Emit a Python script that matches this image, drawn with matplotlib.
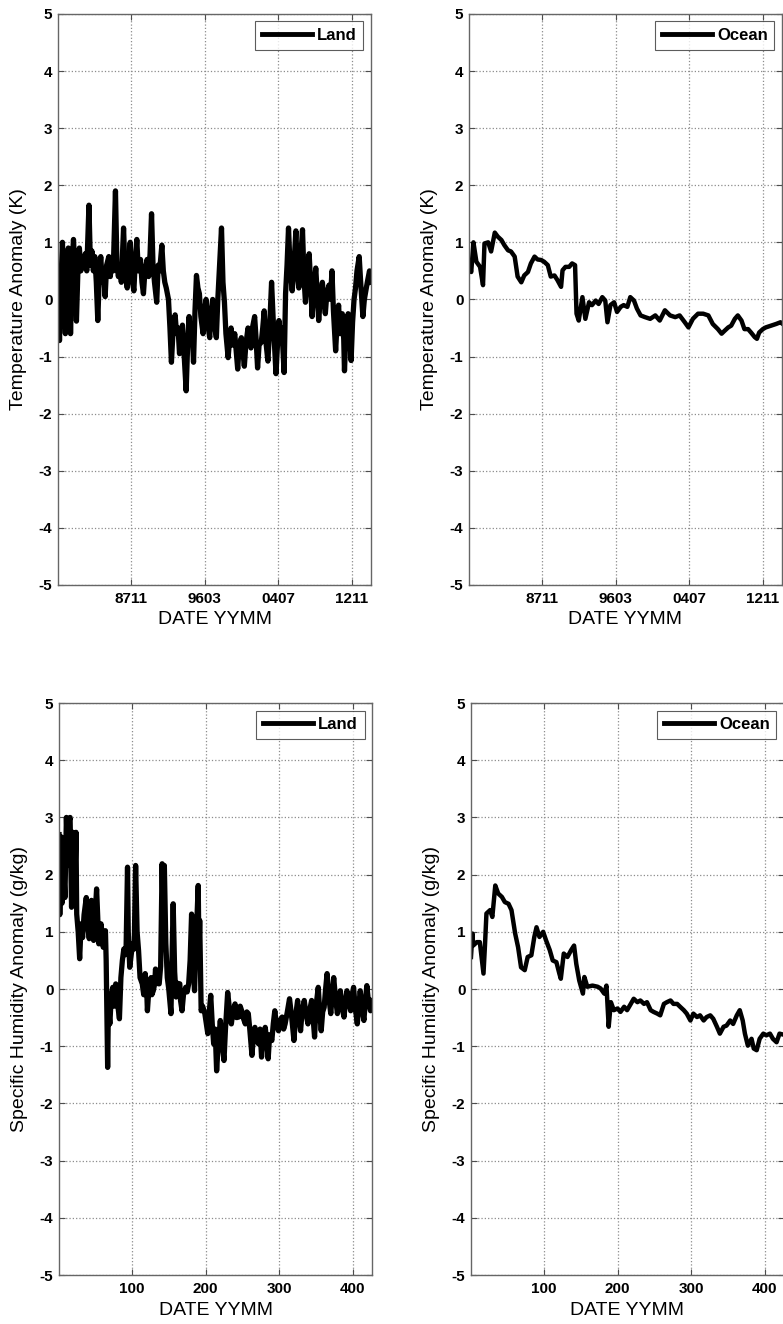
import numpy as np
import matplotlib
matplotlib.use('Agg')
import matplotlib.pyplot as plt

plt.rcParams['font.family'] = ['Liberation Sans', 'DejaVu Sans']
plt.rcParams['axes.unicode_minus'] = False

# month index (1..426) and anomaly
tland_x = [1, 3, 5, 7, 9, 11, 13, 15, 17, 18, 20, 22, 24, 26, 28, 30, 32, 34, 36, 38,
           40, 43, 45, 47, 49, 51, 53, 55, 57, 59, 61, 63, 65, 67, 70, 72, 74, 76, 79,
           81, 83, 85, 87, 90, 92, 95, 97, 99, 101, 104, 106, 108, 110, 113, 115, 117,
           119, 122, 124, 126, 128, 130, 132, 135, 137, 139, 142, 144, 146, 148, 151,
           153, 155, 157, 160, 162, 164, 166, 168, 170, 172, 175, 177, 179, 181, 183,
           185, 187, 189, 191, 193, 195, 198, 200, 202, 204, 207, 209, 211, 213, 216,
           218, 220, 223, 225, 227, 229, 232, 234, 236, 238, 241, 243, 245, 247, 250,
           252, 254, 256, 259, 261, 263, 265, 268, 270, 272, 274, 277, 279, 281, 283,
           286, 288, 291, 293, 295, 297, 299, 301, 303, 305, 308, 310, 312, 314, 316,
           319, 321, 324, 326, 328, 330, 333, 335, 337, 339, 342, 344, 346, 348, 351,
           353, 355, 357, 360, 362, 364, 366, 369, 371, 373, 375, 378, 380, 382, 384,
           387, 389, 390, 392, 395, 397, 399, 401, 403, 405, 407, 410, 412, 415, 417,
           419, 421, 424, 426]
tland_y = [0.2, -0.72, 0.3, 1.0, 0.2, -0.6, 0.5, 0.9, 0.2, -0.6, 0.6, 1.05, 0.5,
           -0.38, 0.5, 0.9, 0.5, 0.75, 0.6, 0.8, 0.5, 1.65, 0.6, 0.85, 0.5, 0.75, 0.3,
           -0.37, 0.4, 0.75, 0.3, 0.45, 0.05, 0.6, 0.75, 0.4, 0.7, 0.5, 1.9, 0.6, 0.4,
           0.6, 0.3, 1.25, 0.5, 0.2, 0.6, 1.0, 0.4, 0.15, 0.7, 1.05, 0.5, 0.7, 0.3, 0.1,
           0.5, 0.7, 0.4, 0.8, 1.5, 0.6, 0.3, -0.05, 0.6, 0.5, 0.95, 0.5, 0.3, 0.2, 0.0,
           -0.5, -1.1, -0.6, -0.27, -0.6, -0.5, -0.95, -0.6, -0.45, -0.9, -1.6, -0.8,
           -0.3, -0.7, -0.5, -1.1, -0.2, 0.42, 0.2, 0.1, -0.3, -0.6, -0.2, 0.0, -0.4,
           -0.67, -0.2, 0.0, -0.4, -0.67, 0.0, 0.5, 1.25, 0.3, -0.05, -0.6, -1.02, -0.7,
           -0.5, -0.8, -0.6, -0.9, -1.22, -0.8, -0.67, -0.9, -1.17, -0.8, -0.5, -0.6,
           -0.85, -0.5, -0.3, -0.7, -1.2, -0.8, -0.75, -0.5, -0.2, -0.7, -1.08, -0.6,
           0.3, -0.3, -0.8, -1.3, -0.8, -0.37, -0.7, -0.5, -1.28, 0.1, 0.6, 1.25, 0.6,
           0.15, 0.5, 1.2, 0.5, 0.2, 0.6, 1.22, 0.4, -0.05, 0.3, 0.8, 0.3, -0.3, 0.1,
           0.55, 0.1, -0.37, 0.0, 0.3, 0.0, -0.25, 0.1, 0.25, 0.0, 0.5, -0.2, -0.9,
           -0.4, -0.1, -0.6, -0.25, -0.7, -1.25, -0.6, -0.25, -0.6, -1.07, -0.4, 0.0,
           0.2, 0.5, 0.75, 0.3, -0.3, 0.0, 0.15, 0.3, 0.5, 0.3]

tocean_x = [1, 4, 7, 11, 16, 20, 22, 27, 31, 36, 40, 45, 49, 54, 58, 63, 67, 72, 76,
            81, 85, 90, 94, 99, 103, 108, 112, 117, 121, 126, 128, 132, 137, 141, 145,
            147, 150, 155, 159, 164, 168, 173, 177, 182, 186, 189, 193, 198, 202, 207,
            211, 216, 220, 225, 229, 234, 240, 247, 254, 260, 267, 274, 281, 287, 294,
            299, 305, 312, 319, 326, 332, 339, 344, 348, 353, 357, 362, 366, 371, 375,
            380, 384, 389, 392, 395, 400, 404, 411, 418, 424, 426]
tocean_y = [0.6, 0.48, 1.0, 0.66, 0.57, 0.25, 0.98, 1.0, 0.84, 1.17, 1.1, 1.04, 0.95,
            0.86, 0.84, 0.75, 0.4, 0.3, 0.42, 0.48, 0.63, 0.75, 0.7, 0.69, 0.66, 0.6,
            0.4, 0.42, 0.34, 0.22, 0.51, 0.57, 0.57, 0.63, 0.6, -0.25, -0.37, 0.04,
            -0.34, -0.05, -0.1, -0.02, -0.08, 0.04, -0.02, -0.4, -0.1, -0.05, -0.22,
            -0.13, -0.1, -0.13, 0.04, -0.02, -0.16, -0.28, -0.31, -0.34, -0.28, -0.37,
            -0.19, -0.28, -0.31, -0.28, -0.4, -0.49, -0.34, -0.25, -0.25, -0.28, -0.43,
            -0.52, -0.6, -0.55, -0.49, -0.46, -0.34, -0.28, -0.37, -0.52, -0.52, -0.58,
            -0.66, -0.69, -0.58, -0.52, -0.49, -0.46, -0.43, -0.4, -0.42]

qland_x = [1, 2, 4, 5, 7, 9, 11, 13, 14, 16, 17, 18, 20, 22, 24, 25, 27, 29, 31, 33,
           35, 38, 40, 42, 44, 45, 47, 48, 50, 52, 54, 55, 57, 58, 60, 61, 63, 64, 65,
           67, 68, 70, 72, 74, 76, 78, 80, 83, 85, 87, 89, 91, 92, 94, 95, 97, 99, 101,
           103, 105, 107, 109, 111, 114, 116, 118, 120, 121, 123, 126, 127, 129, 131,
           132, 134, 137, 139, 141, 142, 144, 146, 148, 150, 153, 154, 156, 158, 160,
           162, 165, 166, 168, 170, 173, 175, 177, 179, 181, 183, 185, 187, 190, 191,
           192, 194, 196, 199, 201, 203, 205, 207, 209, 211, 213, 215, 217, 220, 222,
           225, 227, 230, 232, 235, 237, 240, 242, 245, 247, 249, 251, 254, 256, 258,
           260, 263, 265, 267, 269, 272, 274, 276, 278, 281, 283, 285, 287, 290, 292,
           294, 296, 299, 301, 304, 306, 308, 311, 314, 317, 320, 322, 325, 327, 329,
           331, 334, 336, 339, 341, 344, 346, 348, 350, 353, 355, 357, 359, 361, 363,
           365, 367, 370, 372, 374, 376, 379, 381, 383, 385, 388, 390, 392, 394, 397,
           399, 401, 403, 406, 408, 410, 412, 415, 417, 419, 421, 424, 426]
qland_y = [2.7, 1.3, 2.66, 1.5, 2.2, 1.6, 3.0, 2.16, 2.9, 3.0, 2.2, 1.43, 2.74, 1.6,
           2.74, 1.31, 1.0, 0.53, 1.14, 0.9, 1.3, 1.6, 1.1, 0.88, 1.2, 1.55, 1.1, 0.85,
           1.3, 1.75, 1.1, 0.79, 1.0, 1.14, 0.9, 0.73, 0.9, 1.02, 0.5, -1.37, -0.3,
           -0.61, -0.1, 0.03, -0.3, 0.09, -0.2, -0.52, 0.2, 0.5, 0.7, 0.6, 0.67, 2.13,
           1.0, 0.38, 0.6, 0.79, 0.7, 2.16, 1.0, 0.67, 0.2, 0.09, -0.1, 0.27, 0.0,
           -0.38, 0.0, 0.2, -0.1, -0.03, 0.1, 0.35, 0.1, 0.09, 0.4, 2.19, 1.5, 2.16,
           0.8, 0.2, 0.0, -0.43, 0.3, 1.49, 0.3, -0.14, 0.1, 0.09, -0.2, -0.38, -0.1,
           0.03, -0.05, 0.09, 0.5, 1.31, 0.4, -0.03, 0.8, 1.81, 0.6, 1.2, -0.38, -0.3,
           -0.43, -0.6, -0.78, -0.4, -0.11, -0.6, -0.96, -0.7, -1.43, -1.0, -0.55,
           -0.9, -1.25, -0.7, -0.06, -0.3, -0.61, -0.4, -0.26, -0.5, -0.49, -0.3,
           -0.38, -0.5, -0.61, -0.4, -0.43, -0.7, -1.16, -0.8, -0.67, -0.9, -0.96,
           -0.7, -1.19, -0.9, -0.67, -0.9, -1.22, -0.8, -0.9, -0.6, -0.38, -0.6, -0.73,
           -0.55, -0.49, -0.7, -0.61, -0.4, -0.17, -0.5, -0.9, -0.5, -0.2, -0.5, -0.73,
           -0.4, -0.2, -0.4, -0.61, -0.4, -0.2, -0.5, -0.84, -0.3, 0.03, -0.4, -0.73,
           -0.4, -0.32, 0.0, 0.27, -0.1, -0.43, -0.1, 0.2, -0.1, -0.43, -0.2, -0.03,
           -0.3, -0.49, -0.2, -0.03, -0.2, -0.38, -0.1, 0.03, -0.3, -0.61, -0.3, -0.03,
           -0.3, -0.55, -0.2, 0.06, -0.2, -0.38, -0.2]

qocean_x = [1, 3, 4, 9, 13, 18, 20, 22, 27, 30, 34, 38, 43, 47, 52, 56, 61, 65, 69,
            74, 78, 83, 87, 90, 94, 99, 103, 108, 112, 117, 121, 123, 127, 132, 137,
            141, 144, 148, 153, 155, 159, 166, 173, 177, 182, 185, 188, 191, 195, 200,
            204, 209, 213, 218, 222, 227, 231, 236, 240, 245, 249, 254, 258, 263, 267,
            272, 276, 281, 285, 290, 294, 299, 303, 308, 312, 317, 321, 326, 330, 335,
            339, 344, 348, 353, 357, 362, 366, 370, 373, 377, 382, 385, 389, 393, 398,
            402, 407, 411, 416, 420, 426]
qocean_y = [0.56, 0.97, 0.76, 0.82, 0.82, 0.27, 0.76, 1.32, 1.38, 1.26, 1.81, 1.67,
            1.61, 1.52, 1.49, 1.38, 0.97, 0.73, 0.38, 0.33, 0.56, 0.59, 0.91, 1.08,
            0.91, 1.0, 0.85, 0.68, 0.5, 0.47, 0.27, 0.18, 0.62, 0.56, 0.68, 0.76, 0.44,
            0.15, -0.08, 0.21, 0.04, 0.06, 0.04, 0.01, -0.08, 0.06, -0.66, -0.23, -0.37,
            -0.34, -0.4, -0.31, -0.37, -0.26, -0.17, -0.23, -0.2, -0.26, -0.23, -0.37,
            -0.4, -0.43, -0.46, -0.26, -0.23, -0.2, -0.26, -0.26, -0.31, -0.37, -0.43,
            -0.55, -0.43, -0.49, -0.46, -0.55, -0.49, -0.46, -0.52, -0.66, -0.78, -0.66,
            -0.64, -0.55, -0.61, -0.46, -0.37, -0.55, -0.78, -0.99, -0.87, -1.04, -1.07,
            -0.87, -0.78, -0.81, -0.78, -0.87, -0.93, -0.78, -0.8]

month_ticks = [100, 200, 300, 400]
date_labels = ['8711', '9603', '0407', '1211']


def panel(ax, x, y, name, ylab, xticklabels, lw):
    ax.plot(x, y, color='black', linewidth=lw, label=name)
    ax.set_xlim(1, 426)
    ax.set_ylim(-5, 5)
    ax.set_yticks(np.arange(-5, 6, 1))
    ax.set_xticks(month_ticks)
    ax.set_xticklabels(xticklabels)
    ax.grid(True, linestyle=':', color='0.55', linewidth=0.9)
    ax.tick_params(direction='in', top=True, right=True, length=4, width=0.8,
                   color='0.3', labelsize=11)
    ax.tick_params(axis='x', pad=5)
    ax.tick_params(axis='y', pad=4)
    for lab in ax.get_xticklabels() + ax.get_yticklabels():
        lab.set_fontweight('bold')
    for s in ax.spines.values():
        s.set_color('0.4')
        s.set_linewidth(1.0)
    ax.set_xlabel('DATE YYMM', fontsize=14, labelpad=4)
    ax.set_ylabel(ylab, fontsize=14)
    ax.yaxis.set_label_coords(-0.10, 0.5)
    leg = ax.legend(loc='upper right', fancybox=False, handlelength=3.0,
                    borderaxespad=0.45, prop={'weight': 'bold', 'size': 12},
                    handletextpad=0.3, borderpad=0.4)
    leg.get_frame().set_edgecolor('0.2')
    leg.get_frame().set_linewidth(0.8)
    for ln in leg.get_lines():
        ln.set_linewidth(3.5)


fig = plt.figure(figsize=(7.83, 13.24), dpi=100)
ax1 = fig.add_axes([0.0741, 0.5582, 0.3997, 0.4313])
ax2 = fig.add_axes([0.5990, 0.5582, 0.3997, 0.4313])
ax3 = fig.add_axes([0.0754, 0.0370, 0.3997, 0.4320])
ax4 = fig.add_axes([0.6015, 0.0370, 0.3997, 0.4320])

panel(ax1, tland_x, tland_y, 'Land', 'Temperature Anomaly (K)', date_labels, 3.8)
panel(ax2, tocean_x, tocean_y, 'Ocean', 'Temperature Anomaly (K)', date_labels, 3.2)
panel(ax3, qland_x, qland_y, 'Land', 'Specific Humidity Anomaly (g/kg)',
      [str(m) for m in month_ticks], 3.8)
panel(ax4, qocean_x, qocean_y, 'Ocean', 'Specific Humidity Anomaly (g/kg)',
      [str(m) for m in month_ticks], 3.2)

fig.savefig('out.png', dpi=100)
